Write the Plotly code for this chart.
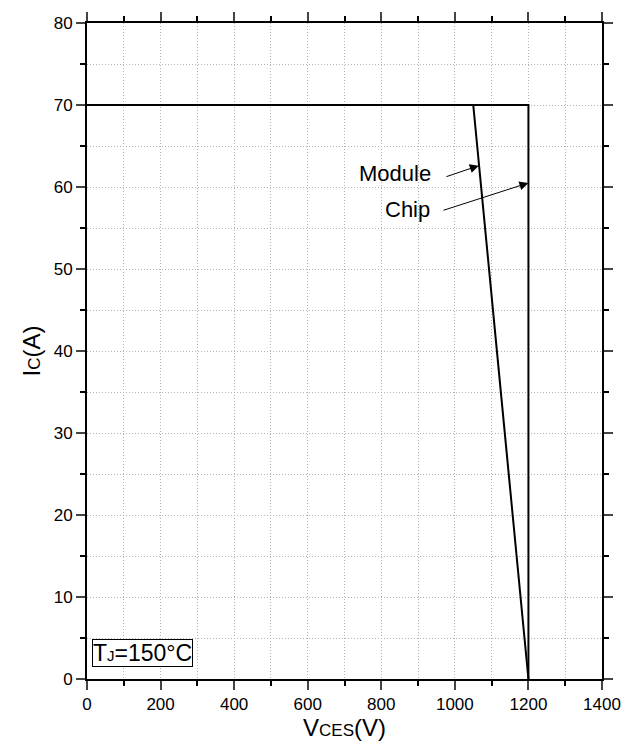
import plotly.graph_objects as go

# Data
chip_v = [0, 1200, 1200]
chip_i = [70, 70, 0]
module_v = [0, 1050, 1200]
module_i = [70, 70, 0]

x_ticks = [0, 200, 400, 600, 800, 1000, 1200, 1400]
y_ticks = [0, 10, 20, 30, 40, 50, 60, 70, 80]

fig = go.Figure()
fig.add_trace(go.Scatter(x=chip_v, y=chip_i, mode="lines", name="Chip",
                         line=dict(color="black", width=2), showlegend=False))
fig.add_trace(go.Scatter(x=module_v, y=module_i, mode="lines", name="Module",
                         line=dict(color="black", width=2), showlegend=False))

font = dict(family="Liberation Sans, Arial, sans-serif", color="black")
grid = dict(showgrid=True, gridcolor="#b4b4b4", griddash="1px,2px", gridwidth=1)

fig.update_layout(
    width=632, height=745,
    margin=dict(l=87, r=30, t=23, b=66),
    plot_bgcolor="white", paper_bgcolor="white",
    font=dict(size=17, **font),
    xaxis=dict(range=[0, 1400], tickvals=x_ticks, ticks="outside", ticklen=9, tickwidth=2,
               showline=True, linecolor="black", linewidth=2, mirror="allticks", automargin=False,
               minor=dict(dtick=100, ticks="outside", ticklen=5, tickwidth=2, tickcolor="black", **grid),
               zeroline=False, tickfont=dict(size=17),
               title=dict(text="V<span style='font-size:17px'>CES</span>(V)", font=dict(size=24), standoff=4),
               **grid),
    yaxis=dict(range=[0, 80], tickvals=y_ticks, ticks="outside", ticklen=9, tickwidth=2,
               showline=True, linecolor="black", linewidth=2, mirror="allticks", automargin=False,
               minor=dict(dtick=5, ticks="outside", ticklen=5, tickwidth=2, tickcolor="black", **grid),
               zeroline=False, tickfont=dict(size=17),
               title=dict(text="I<span style='font-size:17px'>C</span>(A)", font=dict(size=24), standoff=6),
               **grid),
)

fig.add_annotation(x=1065, y=62.6, ax=973, ay=61.2, xref="x", yref="y", axref="x", ayref="y",
                   text="", showarrow=True, arrowhead=2, arrowsize=1.8, arrowwidth=1, arrowcolor="black")
fig.add_annotation(x=1200, y=60.5, ax=965, ay=57.1, xref="x", yref="y", axref="x", ayref="y",
                   text="", showarrow=True, arrowhead=2, arrowsize=1.8, arrowwidth=1, arrowcolor="black")
fig.add_annotation(x=837, y=61.7, xref="x", yref="y", text="Module", showarrow=False,
                   font=dict(size=22, **font))
fig.add_annotation(x=870, y=57.3, xref="x", yref="y", text="Chip", showarrow=False,
                   font=dict(size=22, **font))
fig.add_annotation(x=14, y=1.5, xref="x", yref="y", xanchor="left", yanchor="bottom",
                   text="T<span style='font-size:15px'>J</span>=150°C", showarrow=False,
                   font=dict(size=23, **font), bordercolor="black", borderwidth=1, borderpad=0,
                   bgcolor="white")

fig.write_html("out.html")
